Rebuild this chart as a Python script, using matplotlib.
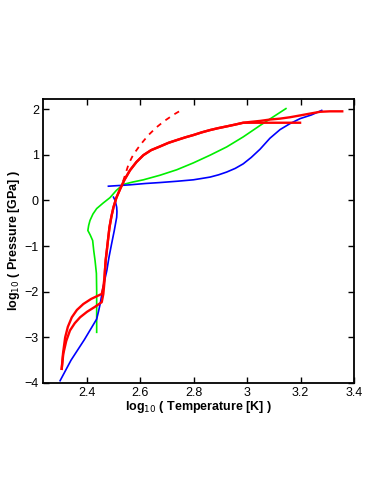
import matplotlib
matplotlib.use('Agg')
import matplotlib.pyplot as plt

plt.rcParams['font.family'] = ['Liberation Sans', 'DejaVu Sans']

# red curve A (upper lower-branch, ends flat at 3.2)
red_a_x = [2.305, 2.310, 2.318, 2.328, 2.343, 2.362, 2.386, 2.415, 2.440, 2.455, 2.461, 2.465,
           2.467, 2.470, 2.474, 2.479, 2.484, 2.491, 2.499, 2.510, 2.524, 2.540, 2.561, 2.585,
           2.611, 2.640, 2.673, 2.705, 2.736, 2.768, 2.798, 2.830, 2.861, 2.890, 2.923, 2.955,
           2.985, 3.050, 3.120, 3.198]
red_a_y = [-3.69, -3.35, -3.00, -2.77, -2.56, -2.40, -2.27, -2.16, -2.09, -2.05, -1.90, -1.70,
           -1.54, -1.30, -1.10, -0.84, -0.59, -0.36, -0.15, 0.06, 0.25, 0.45, 0.66, 0.84,
           0.99, 1.10, 1.18, 1.26, 1.32, 1.38, 1.43, 1.49, 1.54, 1.58, 1.62, 1.66,
           1.70, 1.70, 1.70, 1.70]
# red curve B (lower lower-branch, ends at 3.356)
red_b_x = [2.305, 2.311, 2.322, 2.336, 2.354, 2.374, 2.400, 2.430, 2.455, 2.458, 2.461, 2.465,
           2.467, 2.470, 2.474, 2.479, 2.484, 2.491, 2.499, 2.510, 2.524, 2.540, 2.561, 2.585,
           2.611, 2.640, 2.673, 2.705, 2.736, 2.768, 2.798, 2.830, 2.861, 2.890, 2.923, 2.955,
           2.985, 3.015, 3.048, 3.085, 3.123, 3.160, 3.198, 3.235, 3.273, 3.310, 3.356]
red_b_y = [-3.69, -3.36, -3.08, -2.85, -2.69, -2.56, -2.44, -2.33, -2.23, -2.14, -2.05, -1.80,
           -1.54, -1.30, -1.10, -0.84, -0.59, -0.36, -0.15, 0.06, 0.25, 0.45, 0.66, 0.84,
           0.99, 1.10, 1.18, 1.26, 1.32, 1.38, 1.43, 1.49, 1.54, 1.58, 1.62, 1.66,
           1.70, 1.72, 1.74, 1.77, 1.79, 1.82, 1.86, 1.90, 1.94, 1.95, 1.95]
# red dashed
red_d_x = [2.535, 2.545, 2.556, 2.573, 2.600, 2.630, 2.660, 2.690, 2.725, 2.760]
red_d_y = [0.42, 0.60, 0.80, 1.00, 1.22, 1.43, 1.60, 1.74, 1.88, 2.00]

# green
green_x = [2.436, 2.436, 2.436, 2.435, 2.430, 2.425, 2.421, 2.412, 2.403, 2.406, 2.411, 2.422,
           2.436, 2.460, 2.486, 2.510, 2.536, 2.570, 2.611, 2.673, 2.736, 2.798, 2.861, 2.923,
           2.985, 3.048, 3.095, 3.145]
green_y = [-2.89, -2.40, -1.97, -1.60, -1.32, -1.10, -0.88, -0.76, -0.66, -0.55, -0.44, -0.30,
           -0.18, -0.06, 0.06, 0.22, 0.35, 0.40, 0.45, 0.55, 0.67, 0.82, 0.99, 1.17,
           1.39, 1.64, 1.82, 2.01]

# blue lower
blue1_x = [2.299, 2.340, 2.390, 2.436, 2.443, 2.449, 2.460, 2.474, 2.482, 2.492, 2.502, 2.511,
           2.512, 2.511, 2.505, 2.499]
blue1_y = [-3.95, -3.50, -3.05, -2.60, -2.43, -2.27, -1.90, -1.54, -1.25, -0.95, -0.66, -0.37,
           -0.25, -0.15, 0.00, 0.07]
# blue upper
blue2_x = [2.480, 2.560, 2.620, 2.673, 2.740, 2.798, 2.830, 2.861, 2.893, 2.923, 2.955, 2.985,
           3.015, 3.048, 3.085, 3.123, 3.160, 3.198, 3.240, 3.279]
blue2_y = [0.31, 0.34, 0.37, 0.39, 0.42, 0.45, 0.48, 0.51, 0.56, 0.62, 0.70, 0.80,
           0.94, 1.12, 1.36, 1.55, 1.68, 1.79, 1.87, 1.97]

xticks = [2.4, 2.6, 2.8, 3.0, 3.2, 3.4]
xtick_labels = ['2.4', '2.6', '2.8', '3', '3.2', '3.4']
yticks = [-4, -3, -2, -1, 0, 1, 2]
ytick_labels = ['\u22124', '\u22123', '\u22122', '\u22121', '0', '1', '2']

fig = plt.figure(figsize=(3.82, 4.94), dpi=100)
ax = fig.add_axes([0.1126, 0.2247, 0.8141, 0.5749])

ax.plot(red_d_x, red_d_y, color='#ff0000', lw=1.3, ls=(0, (3, 3)))
ax.plot(green_x, green_y, color='#00ee00', lw=1.2)
ax.plot(blue1_x, blue1_y, color='#0000ff', lw=1.2)
ax.plot(blue2_x, blue2_y, color='#0000ff', lw=1.2)
ax.plot(red_a_x, red_a_y, color='#ff0000', lw=1.7)
ax.plot(red_b_x, red_b_y, color='#ff0000', lw=1.7)

ax.set_xlim(2.235, 3.4)
ax.set_ylim(-4, 2.22)
ax.set_xticks(xticks)
ax.set_xticklabels(xtick_labels)
ax.set_yticks(yticks)
ax.set_yticklabels(ytick_labels)
ax.tick_params(direction='in', top=True, right=True, length=4, width=1, labelsize=9, pad=3)
for s in ax.spines.values():
    s.set_linewidth(1.3)

ax.set_xlabel('log$_{10}$ ( Temperature [K] )', fontsize=9, fontweight='bold', labelpad=0)
ax.set_ylabel('log$_{10}$ ( Pressure [GPa] )', fontsize=9, fontweight='bold', labelpad=2)

fig.savefig('out.png', dpi=100)
